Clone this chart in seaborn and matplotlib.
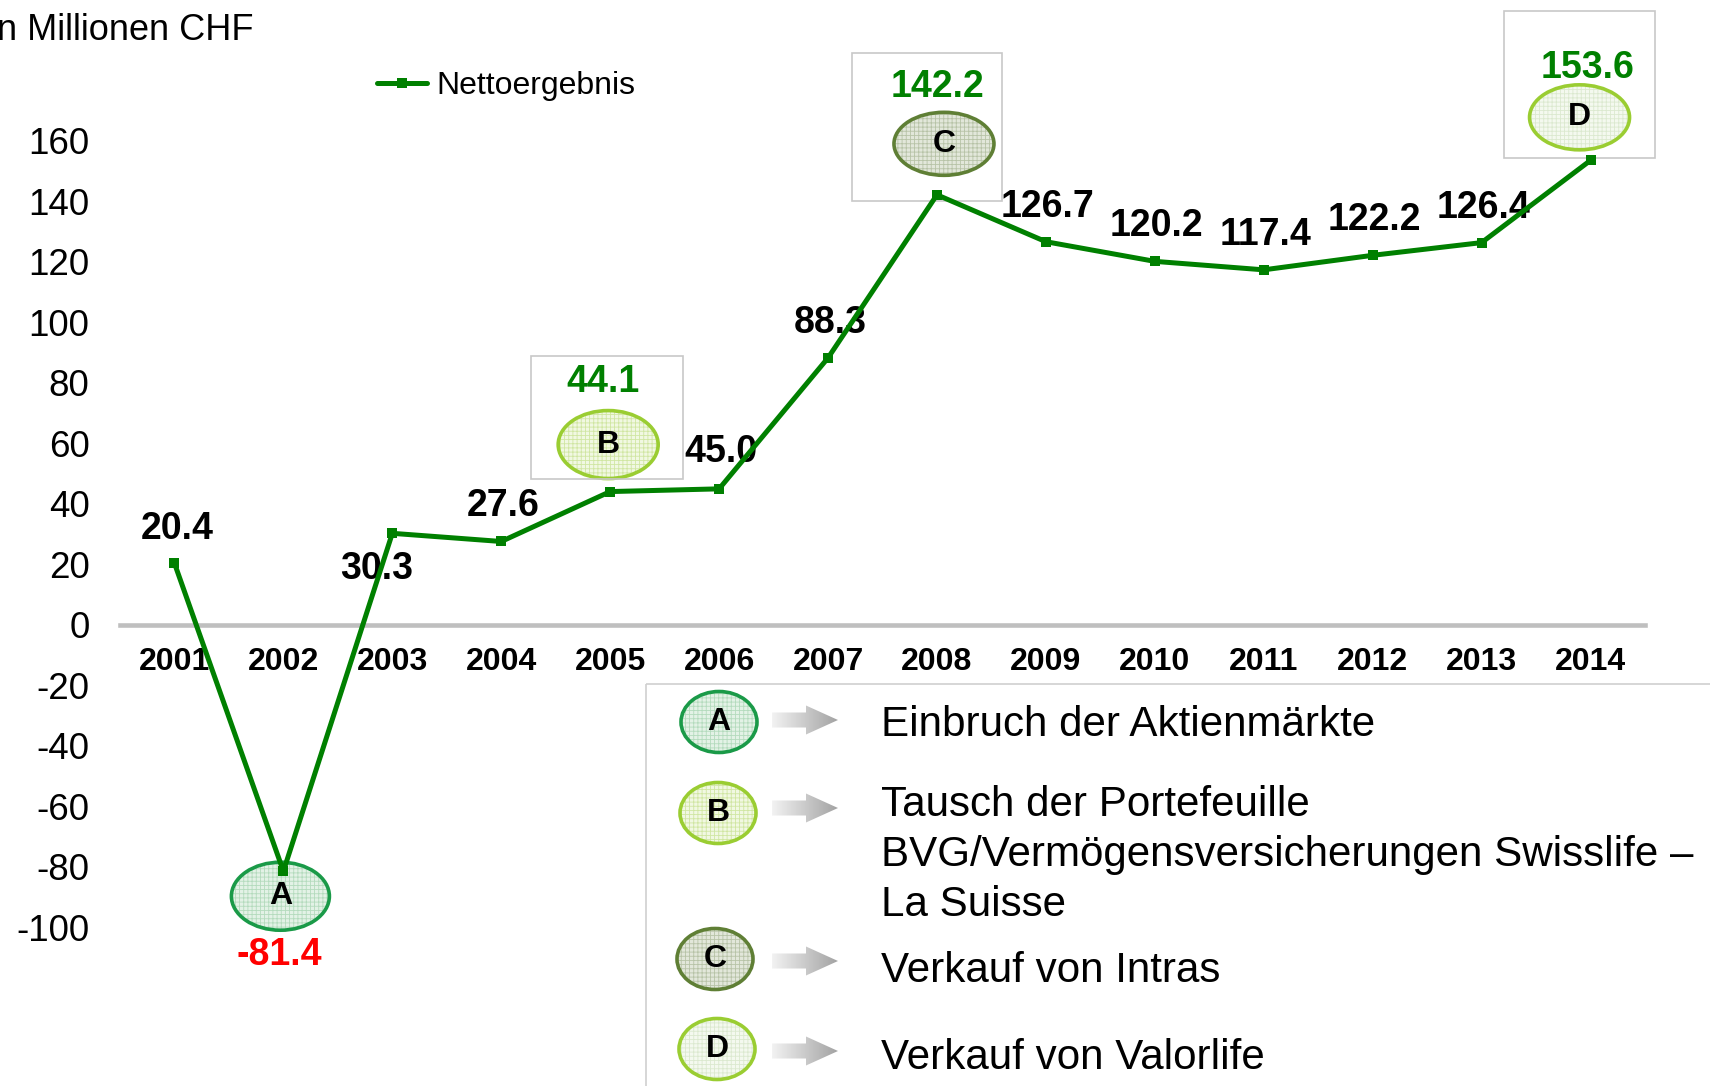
import numpy as np
import matplotlib
matplotlib.use("Agg")
import matplotlib.pyplot as plt
from matplotlib.patches import Ellipse, Rectangle, Polygon
from matplotlib.colors import LinearSegmentedColormap
import seaborn as sns

# data
years = [2001, 2002, 2003, 2004, 2005, 2006, 2007, 2008, 2009, 2010, 2011, 2012, 2013, 2014]
net_result = [20.4, -81.4, 30.3, 27.6, 44.1, 45.0, 88.3, 142.2, 126.7, 120.2, 117.4, 122.2, 126.4, 153.6]
y_ticks = [-100, -80, -60, -40, -20, 0, 20, 40, 60, 80, 100, 120, 140, 160]
event_letters = ["A", "B", "C", "D"]
event_years = [2002, 2005, 2008, 2014]
event_texts = ["Einbruch der Aktienmärkte",
               "Tausch der Portefeuille\nBVG/Vermögensversicherungen Swisslife –\nLa Suisse",
               "Verkauf von Intras",
               "Verkauf von Valorlife"]

W, H = 1710, 1086
GREEN = "#008000"

sns.set_style("white")
plt.rcParams["font.family"] = ["Liberation Sans", "DejaVu Sans"]
plt.rcParams["axes.unicode_minus"] = False
plt.rcParams["hatch.linewidth"] = 0.6
plt.rcParams["text.color"] = "black"
plt.rcParams["xtick.color"] = "black"
plt.rcParams["ytick.color"] = "black"

fig = plt.figure(figsize=(W / 100, H / 100), dpi=100)

# overlay in pixel coords (y down) for the annotation shapes
ov = fig.add_axes([0, 0, 1, 1], zorder=0)
ov.axis("off")

ax = fig.add_axes([120 / W, 0, 1525 / W, 1], zorder=1)
ax.patch.set_visible(False)

sns.lineplot(x=years, y=net_result, ax=ax, color=GREEN, lw=3.6, marker="s",
             markersize=7.5, markeredgewidth=0, label="Nettoergebnis", zorder=3)

# spine position first, it resets the ticks
for s in ["top", "right", "left"]:
    ax.spines[s].set_visible(False)
ax.spines["bottom"].set_position(("data", 0))
ax.spines["bottom"].set_color("#bfbfbf")
ax.spines["bottom"].set_linewidth(3.3)
ax.spines["bottom"].set_zorder(1)

ax.set_xlim(2000.5, 2014.5)
ax.set_ylim(-152.4, 206.6)
ax.set_xticks(years)
ax.set_xticklabels([str(y) for y in years], fontsize=23, fontweight="bold")
ax.set_yticks(y_ticks)
ax.set_yticklabels([str(t) for t in y_ticks], fontsize=26.5)
ax.tick_params(axis="x", length=0, pad=15.5, colors="black")
ax.tick_params(axis="y", length=0, pad=22, colors="black")
ax.set_xlabel("")
ax.set_ylabel("")

ax.legend(loc="center left", bbox_to_anchor=(377 / W, 1 - 86 / H), bbox_transform=fig.transFigure,
          frameon=False, fontsize=23, handlelength=1.55, handletextpad=0.3,
          borderpad=0, borderaxespad=0)

fig.text(253 / W, 1 - 40 / H, "In Millionen CHF", ha="right", va="baseline", fontsize=26)

# value labels, offsets in pixels (x right, y up)
label_offsets = {2001: (3, 34), 2002: (-4, -84), 2003: (-16, -36), 2005: (-7, 110),
                 2006: (2, 37), 2008: (1, 108), 2014: (-3, 92)}
label_colors = {2002: "#ff0000", 2005: GREEN, 2008: GREEN, 2014: GREEN}
for yr, val in zip(years, net_result):
    dx, dy = label_offsets.get(yr, (2, 35))
    ax.annotate(f"{val:.1f}", xy=(yr, val), xytext=(dx, dy), textcoords="offset pixels",
                ha="center", va="center", fontsize=27, fontweight="bold",
                color=label_colors.get(yr, "black"), zorder=2)


def to_px(x, y):
    d = ax.transData.transform((x, y))
    return d[0], H - d[1]


def badge(cx, cy, w, h, letter, edge, fill, hatch_col):
    ov.add_patch(Ellipse((cx, cy), w, h, facecolor=fill, edgecolor=hatch_col, lw=0, hatch="++++"))
    ov.add_patch(Ellipse((cx, cy), w, h, facecolor="none", edgecolor=edge, lw=2.6))
    ov.text(cx, cy, letter, ha="center", va="center", fontsize=23, fontweight="bold", color="black")


badge_style = {
    "A": ("#1a9a48", "#e3f2e6", "#b4dbbd"),
    "B": ("#9acd32", "#f1f8e2", "#d0e6a2"),
    "C": ("#5f7f35", "#e2e7da", "#b7c3a7"),
    "D": ("#9acd32", "#f4f9ef", "#dbe9cf"),
}
# badge offset from its point (px, y down) and size
badge_geom = {"A": (-3, 25, 98, 68), "B": (-2, -47, 100, 68),
              "C": (7, -51, 100, 63), "D": (-11, -43, 100, 65)}
# grey frames around B, C, D (relative to point)
frame_geom = {"B": (-79, -136, 152, 123), "C": (-85, -142, 150, 148), "D": (-87, -149, 151, 147)}

for letter, yr in zip(event_letters, event_years):
    px, py = to_px(yr, net_result[years.index(yr)])
    dx, dy, w, h = badge_geom[letter]
    badge(px + dx, py + dy, w, h, letter, *badge_style[letter])
    if letter in frame_geom:
        fx, fy, fw, fh = frame_geom[letter]
        ov.add_patch(Rectangle((px + fx, py + fy), fw, fh, facecolor="none",
                               edgecolor="#c8c8c8", lw=1.2))

# explanation box bottom right
ov.add_patch(Rectangle((646, 684), 1200, 600, facecolor="none", edgecolor="#d0d0d0", lw=1.2))

arrow_cmap = LinearSegmentedColormap.from_list("arr", ["#f2f2f2", "#a3a3a3"])
badge_y = [722, 813, 959, 1049]
badge_x = [719, 718, 715, 717]
arrow_y = [720, 808, 961, 1051]
text_y = [725, 805, 971, 1058]
for i, letter in enumerate(event_letters):
    badge(badge_x[i], badge_y[i], 76, 61, letter, *badge_style[letter])
    ay = arrow_y[i]
    x0, x1, x2 = 772, 806, 838
    verts = [(x0, ay - 7.5), (x1, ay - 7.5), (x1, ay - 14.5), (x2, ay),
             (x1, ay + 14.5), (x1, ay + 7.5), (x0, ay + 7.5)]
    poly = Polygon(verts, facecolor="none", edgecolor="none")
    ov.add_patch(poly)
    im = ov.imshow(np.linspace(0, 1, 64).reshape(1, -1), cmap=arrow_cmap,
                   extent=(x0, x2, ay + 15, ay - 15), aspect="auto")
    im.set_clip_path(poly)
    for j, line in enumerate(event_texts[i].split("\n")):
        ov.text(881, text_y[i] + 50 * j, line, ha="left", va="center", fontsize=30.3, color="black")

ov.set_xlim(0, W)
ov.set_ylim(H, 0)

fig.savefig("out.png", dpi=100)
